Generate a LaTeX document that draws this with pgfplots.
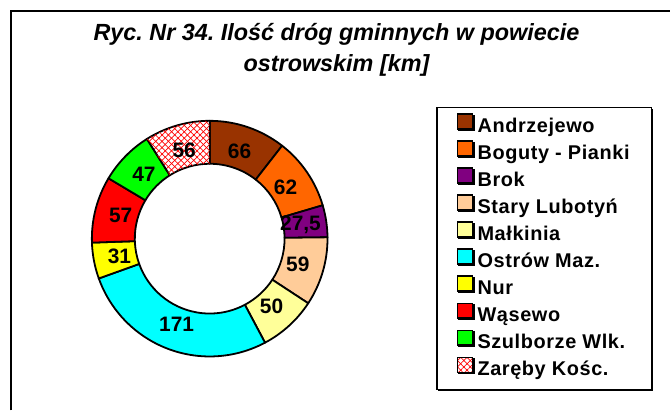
\documentclass[border=0pt]{standalone}
\usepackage{pgfplots}
\pgfplotsset{compat=1.18}
\usepackage{pgfplotstable}
\usepackage{fontspec}
\setmainfont{Liberation Sans}
\newfontfamily\legfont[LetterSpace=3]{Liberation Sans}
\usetikzlibrary{patterns.meta,shadows}
\frenchspacing

\definecolor{cAnd}{HTML}{993300}
\definecolor{cBog}{HTML}{FF6600}
\definecolor{cBro}{HTML}{800080}
\definecolor{cSta}{HTML}{FFCC99}
\definecolor{cMal}{HTML}{FFFF99}
\definecolor{cOst}{HTML}{00FFFF}
\definecolor{cNur}{HTML}{FFFF00}
\definecolor{cWas}{HTML}{FF0000}
\definecolor{cSzu}{HTML}{00FF00}

\tikzset{
  s0/.style={fill=cAnd}, s1/.style={fill=cBog}, s2/.style={fill=cBro},
  s3/.style={fill=cSta}, s4/.style={fill=cMal}, s5/.style={fill=cOst},
  s6/.style={fill=cNur}, s7/.style={fill=cWas}, s8/.style={fill=cSzu},
  s9/.style={preaction={fill=white},
    pattern={Lines[angle=45,distance=4.5bp,line width=0.7bp]}, pattern color=red,
    postaction={pattern={Lines[angle=-45,distance=4.5bp,line width=0.7bp]}, pattern color=red}},
}

\pgfplotstableread[col sep=comma]{
name,value
Andrzejewo,66
Boguty - Pianki,62
Brok,27.5
Stary Lubotyn,59
Malkinia,50
Ostrow Maz.,171
Nur,31
Wasewo,57
Szulborze Wlk.,47
Zareby Kosc.,56
}\gminy

\def\cx{210}\def\cy{172}\def\Ro{118}\def\Ri{75}\def\Rl{92}

\begin{document}
\begin{tikzpicture}
% cumulative angles from the table
\gdef\total{0}
\foreach \i in {0,...,9}{%
  \pgfplotstablegetelem{\i}{value}\of\gminy
  \pgfmathsetmacro\tmp{\total+\pgfplotsretval}%
  \xdef\total{\tmp}}
\gdef\cum{0}
\foreach \i in {0,...,9}{%
  \pgfplotstablegetelem{\i}{value}\of\gminy
  \let\v\pgfplotsretval
  \pgfmathsetmacro\aS{90-(\cum/\total)*360}%
  \pgfmathsetmacro\tmp{\cum+\v}%
  \xdef\cum{\tmp}%
  \pgfmathsetmacro\aE{90-(\cum/\total)*360}%
  \pgfmathsetmacro\aM{(\aS+\aE)/2}%
  \expandafter\xdef\csname aS\i\endcsname{\aS}%
  \expandafter\xdef\csname aE\i\endcsname{\aE}%
  \expandafter\xdef\csname aM\i\endcsname{\aM}%
  \expandafter\xdef\csname val\i\endcsname{\v}%
}
\begin{axis}[
  x=1bp, y=1bp, xmin=0, xmax=671, ymin=0, ymax=411,
  hide axis, clip=false,
  legend cell align=left,
  legend image code/.code={\draw[#1, draw=black, line width=1.2bp] (0bp,-1bp) rectangle (15bp,14bp);},
  legend style={at={(axis cs:437,304)}, anchor=north west,
    draw=black, line width=1.2bp, fill=white,
    general shadow={fill=black, shadow xshift=1.5bp, shadow yshift=-1.5bp},
    inner xsep=20bp, inner ysep=6bp, row sep=0pt,
    /tikz/every odd column/.append style={column sep=2.5bp},
    font=\legfont\bfseries\fontsize{20}{20}\selectfont,
    nodes={inner xsep=2bp, inner ysep=3.95bp, text height=13bp, text depth=4bp}},
]
\path (axis cs:0,0) rectangle (axis cs:671,411);
% frame
\draw[line width=2bp] (axis cs:11,0) -- (axis cs:11,400) -- (axis cs:671,400);
% title
\node[align=center, font=\bfseries\itshape\fontsize{23.5}{32}\selectfont]
  at (axis cs:337,361) {Ryc. Nr 34. Ilość dróg gminnych w powiecie\\ostrowskim [km]};
% sectors
\pgfplotsinvokeforeach{0,...,9}{
  \filldraw[s#1, draw=black, line width=1.8bp, line join=round]
    (axis cs:{\cx+\Ro*cos(\csname aS#1\endcsname)},{\cy+\Ro*sin(\csname aS#1\endcsname)})
    arc[start angle=\csname aS#1\endcsname, end angle=\csname aE#1\endcsname, radius=\Ro bp]
    -- (axis cs:{\cx+\Ri*cos(\csname aE#1\endcsname)},{\cy+\Ri*sin(\csname aE#1\endcsname)})
    arc[start angle=\csname aE#1\endcsname, end angle=\csname aS#1\endcsname, radius=\Ri bp]
    -- cycle;
}
\pgfplotsinvokeforeach{0,...,9}{
  \node[font=\bfseries\fontsize{21}{21}\selectfont, inner sep=0pt]
    at (axis cs:{\cx+\Rl*cos(\csname aM#1\endcsname)},{\cy+\Rl*sin(\csname aM#1\endcsname)})
    {\pgfmathprintnumber[use comma, assume math mode=true]{\csname val#1\endcsname}};
}
\addlegendimage{s0}\addlegendentry{Andrzejewo}
\addlegendimage{s1}\addlegendentry{Boguty - Pianki}
\addlegendimage{s2}\addlegendentry{Brok}
\addlegendimage{s3}\addlegendentry{Stary Lubotyń}
\addlegendimage{s4}\addlegendentry{Małkinia}
\addlegendimage{s5}\addlegendentry{Ostrów Maz.}
\addlegendimage{s6}\addlegendentry{Nur}
\addlegendimage{s7}\addlegendentry{Wąsewo}
\addlegendimage{s8}\addlegendentry{Szulborze Wlk.}
\addlegendimage{s9}\addlegendentry{Zaręby Kośc.}
\end{axis}
\end{tikzpicture}
\end{document}
